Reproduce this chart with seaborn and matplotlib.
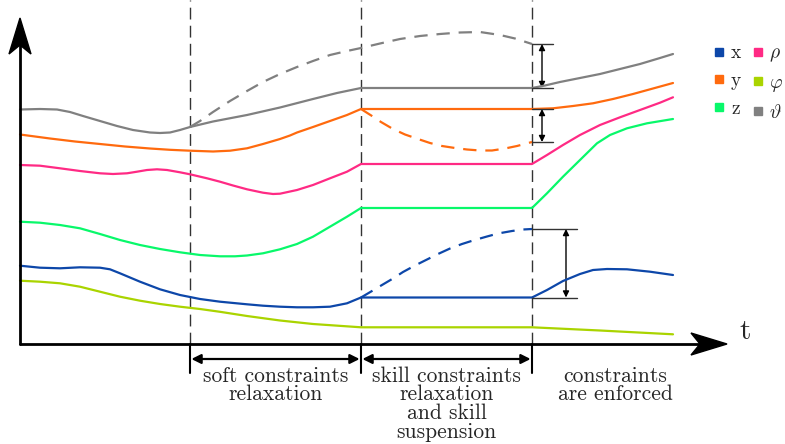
import matplotlib
matplotlib.use("Agg")
import matplotlib.pyplot as plt
from matplotlib.lines import Line2D
from matplotlib.patches import Polygon, FancyArrowPatch
import seaborn as sns

# ---- series: time t and level v (height above the time axis) ----
theta_t = [20, 40, 57, 70, 83, 100, 117, 133, 150, 160, 170, 180, 190, 213, 247, 280, 313, 337, 361,
           532, 545, 560, 580, 600, 620, 640, 660, 673]
theta_v = [234.5, 235, 234.5, 232, 228, 223, 218, 214, 211.5, 211, 211.5, 214, 217, 222.5, 229, 236.5, 245, 251, 256,
           256, 258.5, 262, 266, 270, 275, 280, 286, 290]
theta_free_t = [190, 200, 213, 230, 247, 263, 280, 297, 313, 330, 347, 361, 380, 400, 420, 440, 460, 480, 500, 515, 532]
theta_free_v = [217, 223, 232, 243, 253, 262, 270, 277, 283, 289, 293, 296, 300.5, 305, 308, 310, 311.5, 312, 309, 305.5, 300]

y_t = [20, 50, 75, 100, 125, 150, 170, 190, 213, 230, 247, 263, 280, 290, 297, 313, 330, 347, 361,
       532, 553, 573, 593, 613, 633, 653, 673]
y_v = [209.5, 205.5, 202.5, 200, 197.5, 195.5, 194.2, 193.3, 192.5, 193.3, 195.7, 200, 205, 208.5, 211.5, 217, 223, 229, 235,
       235, 235.7, 238, 240.7, 245, 250, 255.5, 261]
y_free_t = [361, 372, 381, 393, 405, 418, 430, 442, 455, 467, 480, 492, 505, 517, 532]
y_free_v = [235, 228, 222, 215, 209.5, 205, 201, 198, 196, 194.5, 193.5, 193.5, 195.5, 198, 202]

rho_t = [20, 40, 60, 80, 100, 113, 127, 137, 147, 157, 167, 180, 190, 207, 220, 233, 247, 263, 273, 280, 297, 313, 330, 347, 361,
         532, 547, 563, 580, 600, 620, 640, 660, 673]
rho_v = [179, 178.3, 175.7, 173, 170.7, 170, 170.7, 172.3, 174, 174.7, 174, 171.7, 169.7, 165.7, 162.3, 158.5, 154.7, 151.3, 150, 150.3,
         154, 159, 165.7, 172.3, 180, 180, 189, 199, 209, 219, 226.7, 234, 241.3, 246.7]

z_t = [20, 40, 60, 80, 100, 120, 140, 160, 180, 200, 220, 235, 247, 263, 280, 297, 313, 330, 347, 361,
       532, 547, 563, 580, 597, 610, 627, 647, 673]
z_v = [122.3, 121.3, 119, 115.7, 110, 104, 99, 95, 91.7, 89, 87.7, 87.7, 88.5, 90.7, 94.7, 100, 107.3, 117.3, 127.3, 136,
       136, 150.7, 167.3, 184, 200.7, 209, 215.7, 220.7, 225]

x_t = [20, 40, 60, 80, 100, 110, 120, 140, 160, 180, 200, 220, 247, 263, 280, 297, 313, 330, 347, 361,
       532, 547, 563, 580, 593, 607, 627, 650, 673]
x_v = [78.3, 76.3, 75.7, 76.7, 76.3, 74.7, 70.7, 62.3, 54.7, 49, 45, 42.3, 39.7, 38.3, 37.3, 36.7, 36.7, 37.3, 40.7, 46.5,
       46.5, 54, 63, 70, 74, 75, 74.7, 72.3, 69]
x_free_t = [361, 372, 382, 393, 403, 415, 427, 438, 450, 462, 473, 487, 498, 512, 523, 532]
x_free_v = [46.5, 53, 59, 65.5, 72, 78.5, 84.5, 90, 95.5, 100, 103.5, 107.5, 110.5, 113, 114.5, 115]

phi_t = [20, 40, 60, 80, 100, 120, 140, 160, 180, 200, 220, 247, 280, 313, 361, 532, 600, 673]
phi_v = [63.3, 62.3, 60.7, 57.3, 52.3, 47.3, 43.3, 40, 37.3, 35, 32.2, 28, 23.5, 20, 16.7, 16.7, 13.5, 9.7]

# phase boundaries on the time axis and their descriptions
phase_t = [190, 361, 532]
phase_labels = ["soft constraints\nrelaxation",
                "skill constraints\nrelaxation\nand skill\nsuspension",
                "constraints\nare enforced"]
t_end = 727
v_top = 326

colors = {"x": "#0d47a9", "y": "#ff6a0e", "z": "#08f86a",
          "rho": "#ff2a84", "phi": "#aad400", "theta": "#808080"}
legend_labels = [("x", "x"), ("y", "y"), ("z", "z"),
                 ("rho", r"$\rho$"), ("phi", r"$\varphi$"), ("theta", r"$\vartheta$")]

sns.set_theme(style="white")
plt.rcParams["font.family"] = ["cmr10", "DejaVu Serif"]
plt.rcParams["mathtext.fontset"] = "cm"
plt.rcParams["axes.formatter.use_mathtext"] = True

fig = plt.figure(figsize=(7.85, 4.44), dpi=100)
ax = fig.add_axes([0, 0, 1, 1])
ax.set_xlim(0, 785)
ax.set_ylim(-100, 344)
ax.axis("off")

lw = 1.6
dash = (0, (6, 4))

def draw(t, v, c, ls="-"):
    sns.lineplot(x=t, y=v, sort=False, estimator=None, color=c, lw=lw,
                 linestyle=ls, ax=ax, legend=False)
    ax.lines[-1].set_solid_joinstyle("round")

# vertical phase separators
for pt in phase_t:
    ax.plot([pt, pt], [0, 344], color="#333333", lw=1.0, linestyle=(0, (8.5, 4.5)), zorder=1)

draw(theta_free_t, theta_free_v, colors["theta"], dash)
draw(y_free_t, y_free_v, colors["y"], dash)
draw(x_free_t, x_free_v, colors["x"], dash)
draw(theta_t, theta_v, colors["theta"])
draw(y_t, y_v, colors["y"])
draw(rho_t, rho_v, colors["rho"])
draw(z_t, z_v, colors["z"])
draw(x_t, x_v, colors["x"])
draw(phi_t, phi_v, colors["phi"])

# constraint violation gaps at the end of suspension
def gap(v_hi, v_lo, t0, t1, ta):
    ax.plot([t0, t1], [v_hi, v_hi], color="#333333", lw=1.0)
    ax.plot([t0, t1], [v_lo, v_lo], color="#333333", lw=1.0)
    ax.add_patch(FancyArrowPatch((ta, v_hi), (ta, v_lo), arrowstyle="<|-|>",
                                 mutation_scale=9, lw=1.0, color="black",
                                 shrinkA=0, shrinkB=0))

gap(theta_free_v[-1], theta_v[theta_t.index(532)], 532, 553, 542)
gap(y_v[y_t.index(532)], y_free_v[-1], 532, 553, 542)
gap(x_free_v[-1], x_v[x_t.index(532)], 532, 577, 566)

# axes with stealth arrowheads
ax.plot([20, 20], [0, v_top - 20], color="black", lw=2.0)
ax.plot([20, t_end - 20], [0, 0], color="black", lw=2.0)
ax.add_patch(Polygon([(20, v_top), (9, v_top - 36), (20, v_top - 27), (31, v_top - 36)],
                     closed=True, color="black"))
ax.add_patch(Polygon([(t_end, 0), (t_end - 36, 11), (t_end - 27, 0), (t_end - 36, -11)],
                     closed=True, color="black"))
ax.text(745, 12, "t", fontsize=21, ha="center", va="center")

# phase intervals below the time axis
for pt in phase_t:
    ax.plot([pt, pt], [0, -29], color="black", lw=1.5)
for a, b in zip(phase_t[:-1], phase_t[1:]):
    ax.add_patch(FancyArrowPatch((a, -15), (b, -15), arrowstyle="<|-|>",
                                 mutation_scale=14, lw=1.6, color="black",
                                 shrinkA=1, shrinkB=1))
label_x = [(phase_t[0] + phase_t[1]) / 2, (phase_t[1] + phase_t[2]) / 2, 615]
for lx, txt in zip(label_x, phase_labels):
    ax.text(lx, -22, txt, fontsize=15.5, ha="center", va="top", linespacing=0.96)

handles = [Line2D([], [], marker="s", linestyle="", markersize=5.5,
                  color=colors[k], label=lab) for k, lab in legend_labels]
ax.legend(handles=handles, ncol=2, loc="upper left", bbox_to_anchor=(696 / 785, 1 - 27 / 444),
          frameon=False, fontsize=14, handlelength=0.6, handletextpad=0.3,
          columnspacing=0.55, labelspacing=0.5)

fig.savefig("out.png", dpi=100)
